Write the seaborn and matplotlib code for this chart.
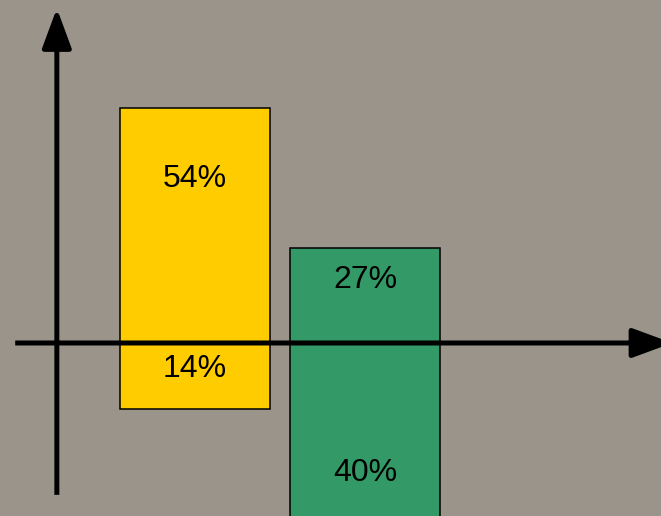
import pandas as pd
import matplotlib
matplotlib.use("Agg")
import matplotlib.pyplot as plt
import seaborn as sns

# ================== DATA ==================
groups = ["A", "B"]
label_above = ["54%", "27%"]
label_below = ["14%", "40%"]
# bar extents (axis units, drawing is not to scale)
extent_above = [54, 21.8]
extent_below = [15.2, 40]
bar_colors = ["#FFCC00", "#339966"]

# label placement (layout only)
label_y_above = [37.7, 14.5]
label_y_below = [-6.0, -29.9]

BG = "#9a948b"

df = pd.DataFrame({
    "group": groups,
    "above": extent_above,
    "below": [-v for v in extent_below],
})

# ================== PLOT ==================
sns.set_theme(style="white")
plt.rcParams["font.family"] = ["Liberation Sans", "DejaVu Sans"]

fig = plt.figure(figsize=(6.61, 5.16), dpi=100, facecolor=BG)
ax = fig.add_axes([0, 0, 1, 1])
ax.set_facecolor(BG)

for col in ["above", "below"]:
    sns.barplot(data=df, x="group", y=col, hue="group", palette=bar_colors,
                saturation=1, width=0.882, edgecolor="black", linewidth=1.1,
                legend=False, ax=ax, zorder=2)

ax.set_xlim(-1.147, 2.741)
ax.set_ylim(-39.75, 78.8)
for s in ax.spines.values():
    s.set_visible(False)
ax.set_xticks([])
ax.set_yticks([])
ax.set_xlabel("")
ax.set_ylabel("")

for i, g in enumerate(groups):
    ax.text(i, label_y_above[i], label_above[i], ha="center", va="center",
            fontsize=23, color="black", zorder=5)
    ax.text(i, label_y_below[i], label_below[i], ha="center", va="center",
            fontsize=23, color="black", zorder=5)

arrow = dict(arrowstyle="-|>,head_length=1.22,head_width=0.45",
             mutation_scale=20, lw=3.6, color="black",
             shrinkA=0, shrinkB=0, capstyle="butt")

# horizontal axis at zero
ax.annotate("", xy=(1.017, 0), xytext=(0.023, 0),
            xycoords=("axes fraction", "data"),
            textcoords=("axes fraction", "data"),
            arrowprops=arrow, annotation_clip=False, zorder=4)
# vertical axis
ax.annotate("", xy=(0.086, 0.984), xytext=(0.086, 0.041),
            xycoords="axes fraction", arrowprops=arrow,
            annotation_clip=False, zorder=4)

plt.savefig("out.png", dpi=100, facecolor=BG)
plt.close()
